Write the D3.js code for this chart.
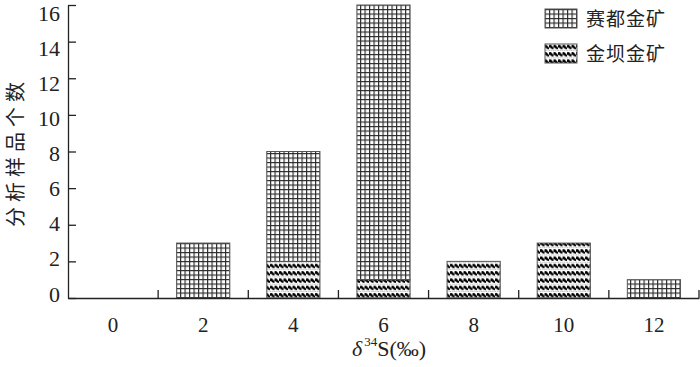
<!DOCTYPE html>
<html><head><meta charset="utf-8">
<script src="https://cdn.jsdelivr.net/npm/d3@7"></script>
<style>
body{margin:0;background:#fff;}
svg{display:block;}
</style></head>
<body>
<svg id="chart" width="700" height="367"></svg>
<script>
const categories = ["0","2","4","6","8","10","12"];
const saiduValues = [0,3,6,15,0,0,1];   // 赛都金矿
const jinbaValues = [0,0,2,1,2,3,0];    // 金坝金矿
const yTicks = [0,2,4,6,8,10,12,14,16];
const seriesNames = ["赛都金矿","金坝金矿"];

const svg = d3.select("#chart");
const mLeft = 68, mRight = 699, mTop = 5, mBottom = 298;

const defs = svg.append("defs");
// grid pattern
const pg = defs.append("pattern").attr("id","grid").attr("patternUnits","userSpaceOnUse")
  .attr("width",4.5).attr("height",4.5);
pg.append("rect").attr("width",4.5).attr("height",4.5).attr("fill","#fff");
pg.append("path").attr("d","M0,0.5H4.5M0.5,0V4.5").attr("stroke","#2a2a2a").attr("stroke-width",1.3).attr("fill","none");
// wave pattern
const pw = defs.append("pattern").attr("id","wave").attr("patternUnits","userSpaceOnUse")
  .attr("width",4.5).attr("height",7.3);
pw.append("rect").attr("width",4.5).attr("height",7.3).attr("fill","#fff");
pw.append("path").attr("d","M0,3.6 Q1.1,1 2.25,3 T4.5,3.6").attr("stroke","#000").attr("stroke-width",2.4).attr("fill","none");
pw.append("path").attr("d","M0,6.7H4.5").attr("stroke","#888").attr("stroke-width",0.7).attr("stroke-dasharray","1,1");

const x = d3.scaleBand().domain(categories).range([mLeft,mRight]).paddingInner(0.41).paddingOuter(0.205);
const y = d3.scaleLinear().domain([0,16]).range([mBottom,mTop]);
const yLabel = d3.scaleLinear().domain([0,16]).range([293.5,12.5]);

const data = categories.map((c,i)=>({cat:c, jinba:jinbaValues[i], saidu:saiduValues[i]}));
const stack = d3.stack().keys(["jinba","saidu"]);
const layers = stack(data);
const fills = {jinba:"url(#wave)", saidu:"url(#grid)"};

layers.forEach(layer=>{
  svg.append("g").selectAll("rect").data(layer.filter(d=>d[1]-d[0]>0)).join("rect")
    .attr("x",d=>x(d.data.cat))
    .attr("width",x.bandwidth())
    .attr("y",d=>y(d[1]))
    .attr("height",d=>y(d[0])-y(d[1]))
    .attr("fill",fills[layer.key])
    .attr("stroke","#555").attr("stroke-width",1);
});

// Y axis
const yAxis = d3.axisLeft(y).tickValues(yTicks).tickSize(-8).tickSizeOuter(0).tickPadding(8);
const gy = svg.append("g").attr("transform",`translate(${mLeft},0)`).call(yAxis);
gy.selectAll("path,line").attr("stroke","#222").attr("stroke-width",1.3);
gy.selectAll(".tick text").attr("font-family","'Liberation Serif',serif").attr("font-size",22).attr("fill","#222")
  .attr("dy",d=>(yLabel(d)-y(d)) + 7.5 + "px");

// X axis
const xAxis = d3.axisBottom(x).tickSize(0).tickSizeOuter(0).tickPadding(19);
const gx = svg.append("g").attr("transform",`translate(0,${mBottom})`).call(xAxis);
gx.select("path").attr("stroke","#222").attr("stroke-width",1.5);
gx.selectAll("text").attr("font-family","'Liberation Serif',serif").attr("font-size",21).attr("fill","#222");
// boundary ticks pointing up
const bounds = categories.map(c=>x(c)+x.bandwidth()+ x.step()*0.205);
gx.selectAll("line.b").data(bounds).join("line").attr("class","b")
  .attr("x1",d=>d).attr("x2",d=>d).attr("y1",0).attr("y2",-8)
  .attr("stroke","#222").attr("stroke-width",1.3);

// axis titles
svg.append("text").attr("transform","translate(14.5,152) rotate(-90)")
  .attr("text-anchor","middle").attr("dominant-baseline","central")
  .attr("font-family","'Noto Sans CJK SC',sans-serif")
  .attr("font-size",20).attr("letter-spacing",5).attr("fill","#222").text("分析样品个数");

const xt = svg.append("text").attr("x",389).attr("y",356).attr("text-anchor","middle")
  .attr("font-family","'Liberation Serif',serif").attr("font-size",22).attr("fill","#222");
xt.append("tspan").attr("font-style","italic").text("δ");
xt.append("tspan").attr("font-size",13).attr("dy",-10).attr("dx",2).text("34");
xt.append("tspan").attr("dy",10).text("S(‰)");

// legend
const lg = svg.append("g");
seriesNames.forEach((n,i)=>{
  const yy = 9 + i*35;
  lg.append("rect").attr("x",545).attr("y",yy).attr("width",32).attr("height",19)
    .attr("fill", i===0 ? "url(#grid)" : "url(#wave)").attr("stroke","#555").attr("stroke-width",1);
  lg.append("text").attr("x",586).attr("y",yy+17).attr("font-family","'Noto Sans CJK SC',sans-serif")
    .attr("font-size",19).attr("letter-spacing",1).attr("fill","#222").text(n);
});
</script>
</body></html>
